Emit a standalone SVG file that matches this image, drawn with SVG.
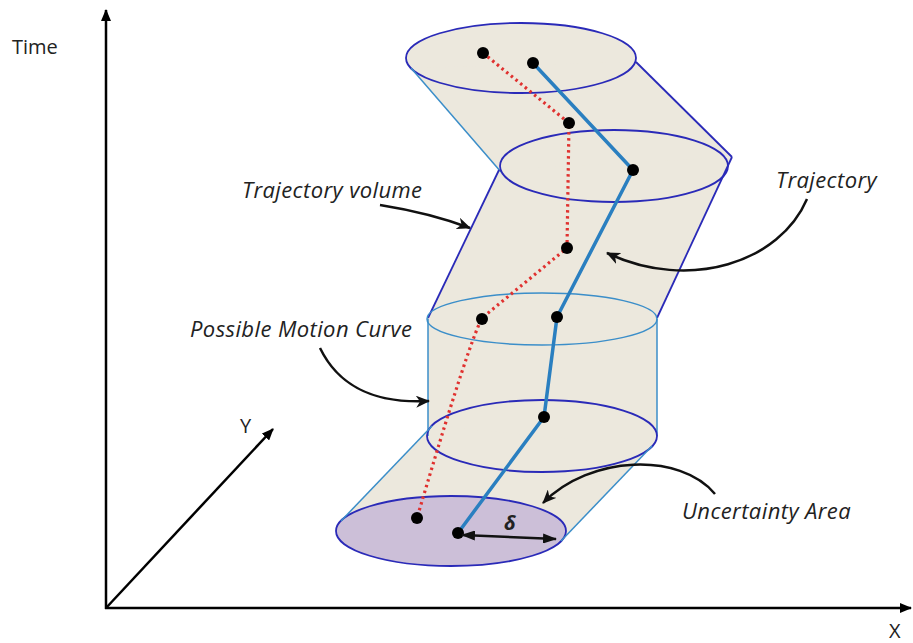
<svg xmlns="http://www.w3.org/2000/svg" width="913" height="643" viewBox="0 0 913 643">
<style>
.fill{fill:#ece8dd;stroke:none}
.dk{fill:none;stroke:#2a2ab8;stroke-width:1.8}
.lt{fill:none;stroke:#3b8ec9;stroke-width:1.5}
.axis{fill:none;stroke:#000;stroke-width:2.5}
.ann{fill:none;stroke:#111;stroke-width:2.5}
.red{fill:none;stroke:#e0312f;stroke-width:3.2;stroke-dasharray:2.5 3.5}
.blue{fill:none;stroke:#2a7fc0;stroke-width:3.5;stroke-linejoin:round}
.dot{fill:#000}
.lbl{font-family:"Open Sans","Liberation Sans",sans-serif;font-style:italic;font-size:22px;letter-spacing:0.4px;fill:#222}
.ax{font-family:"Open Sans","Liberation Sans",sans-serif;font-size:20px;fill:#222}
</style>
<defs>
<marker id="ah" viewBox="0 0 12 10" refX="11" refY="5" markerWidth="12" markerHeight="10" markerUnits="userSpaceOnUse" orient="auto">
<path d="M0,0 L12,5 L0,10 z" fill="#000"/>
</marker>
<marker id="st" viewBox="0 0 14 12" refX="13" refY="6" markerWidth="14" markerHeight="12" markerUnits="userSpaceOnUse" orient="auto">
<path d="M0,0 L14,6 L0,12 L4,6 z" fill="#111"/>
</marker>
<marker id="dh" viewBox="0 0 14 10" refX="13" refY="5" markerWidth="14" markerHeight="10" markerUnits="userSpaceOnUse" orient="auto-start-reverse">
<path d="M0,0 L14,5 L0,10 z" fill="#111"/>
</marker>
</defs>

<g id="axes">
<line class="axis" x1="106" y1="609" x2="106" y2="10" marker-end="url(#ah)"/>
<line class="axis" x1="105" y1="608" x2="911" y2="608" marker-end="url(#ah)"/>
<line class="axis" x1="106" y1="608" x2="273" y2="429" stroke-width="2" marker-end="url(#ah)"/>
<text class="ax" x="12" y="54" font-size="21">Time</text>
<text class="ax" x="240" y="433">Y</text>
<text class="ax" x="889" y="638">X</text>
</g>

<g id="volume-fill">
<ellipse class="fill" cx="521" cy="58" rx="115" ry="35"/>
<polygon class="fill" points="411,68 636,62 732,157 501,172"/>
<ellipse class="fill" cx="614" cy="166" rx="114" ry="36"/>
<polygon class="fill" points="499,170 732,157 657,318 428,318"/>
<ellipse class="fill" cx="542" cy="319" rx="115" ry="26"/>
<rect class="fill" x="428" y="319" width="229" height="117"/>
<ellipse class="fill" cx="542" cy="436" rx="115" ry="36"/>
<polygon class="fill" points="432,426 652,446 561,541 341,521"/>
</g>

<g id="uncertainty-area">
<ellipse cx="451" cy="531" rx="115" ry="35" fill="#ccbfd8" stroke="#2a2ab8" stroke-width="1.8"/>
</g>

<g id="top-volume">
<ellipse class="dk" cx="521" cy="58" rx="115" ry="35"/>
<line class="lt" x1="411" y1="68" x2="501" y2="172"/>
<line class="dk" x1="636" y1="62" x2="732" y2="157"/>
<ellipse class="dk" cx="614" cy="166" rx="114" ry="36"/>
</g>

<g id="middle-volume">
<line class="dk" x1="499" y1="170" x2="428" y2="318"/>
<line class="dk" x1="732" y1="157" x2="657" y2="318"/>
</g>

<g id="cylinder">
<ellipse class="lt" cx="542" cy="319" rx="115" ry="26"/>
<line class="lt" x1="428" y1="319" x2="428" y2="436"/>
<line class="lt" x1="657" y1="319" x2="657" y2="436"/>
<ellipse class="dk" cx="542" cy="436" rx="115" ry="36"/>
</g>

<g id="bottom-volume">
<line class="lt" x1="432" y1="426" x2="341" y2="521"/>
<line class="lt" x1="652" y1="446" x2="561" y2="541"/>
</g>

<g id="possible-motion-curve">
<path class="red" d="M483,53 L569,123 L567,248 L482,318 Q468,345 417,518"/>
</g>

<g id="trajectory">
<polyline class="blue" points="533,63 633,170 557,317 544,417 458,533"/>
</g>

<g id="points">
<circle class="dot" cx="483" cy="53" r="6"/>
<circle class="dot" cx="569" cy="123" r="6"/>
<circle class="dot" cx="567" cy="248" r="6"/>
<circle class="dot" cx="482" cy="319" r="6"/>
<circle class="dot" cx="417" cy="518" r="6"/>
<circle class="dot" cx="533" cy="63" r="6"/>
<circle class="dot" cx="633" cy="170" r="6"/>
<circle class="dot" cx="557" cy="317" r="6"/>
<circle class="dot" cx="544" cy="417" r="6"/>
<circle class="dot" cx="458" cy="533" r="6"/>
</g>

<g id="delta">
<line x1="462" y1="535" x2="556" y2="539" stroke="#111" stroke-width="2.5" marker-start="url(#dh)" marker-end="url(#dh)"/>
<text x="510" y="530" text-anchor="middle" font-family="'Open Sans','Liberation Sans',sans-serif" font-style="italic" font-weight="bold" font-size="20" fill="#222">δ</text>
</g>

<g id="labels">
<text class="lbl" x="242" y="198">Trajectory volume</text>
<text class="lbl" x="190" y="337">Possible Motion Curve</text>
<text class="lbl" x="776" y="188">Trajectory</text>
<text class="lbl" x="682" y="519">Uncertainty Area</text>
</g>

<g id="connectors">
<path class="ann" d="M380,205 Q430,213 470,228" marker-end="url(#st)"/>
<path class="ann" d="M320,348 C338,385 372,404 429,401" marker-end="url(#st)"/>
<path class="ann" d="M807,199 C780,262 690,292 607,253" marker-end="url(#st)"/>
<path class="ann" d="M715,494 C680,452 590,455 543,503" marker-end="url(#st)"/>
</g>
</svg>
